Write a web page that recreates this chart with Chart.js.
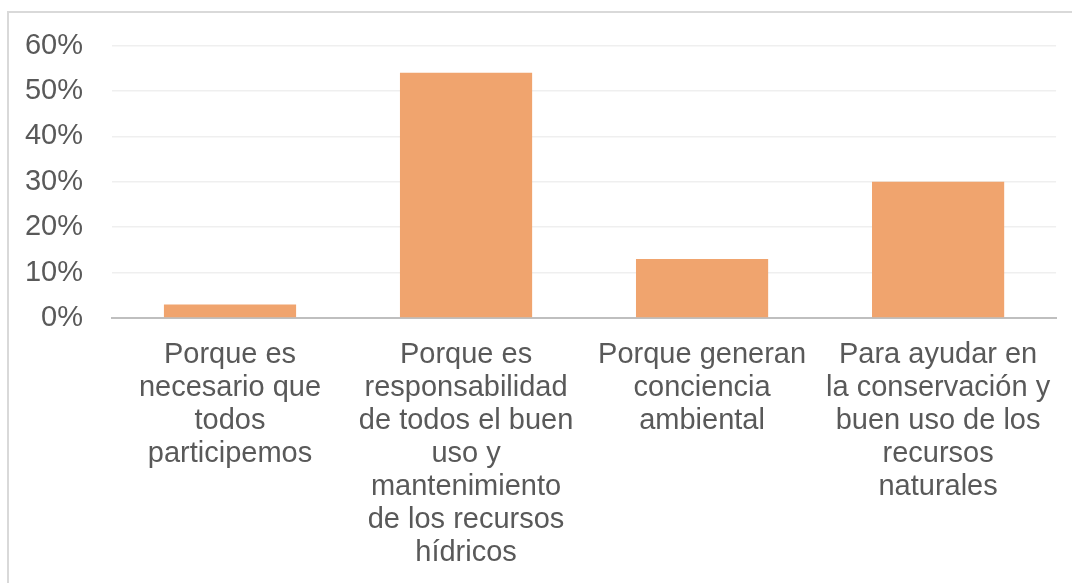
<!DOCTYPE html>
<html>
<head>
<meta charset="utf-8">
<script src="https://cdn.jsdelivr.net/npm/chart.js@4.4.0/dist/chart.umd.min.js"></script>
<style>
  body { margin: 0; background: #fff; }
  #wrap { position: relative; width: 1072px; height: 583px; }
  #frame { position: absolute; left: 7px; top: 11px; right: 0; bottom: 0;
           border-top: 2px solid #d9d9d9; border-left: 2px solid #d9d9d9; pointer-events: none; }
</style>
</head>
<body>
<div id="wrap">
  <canvas id="myChart" width="1072" height="583"></canvas>
  <div id="frame"></div>
</div>
<script>
// categories (already wrapped the way the picture shows them)
var categories = [
  ["Porque es", "necesario que", "todos", "participemos"],
  ["Porque es", "responsabilidad", "de todos el buen", "uso y", "mantenimiento", "de los recursos", "hídricos"],
  ["Porque generan", "conciencia", "ambiental"],
  ["Para ayudar en", "la conservación y", "buen uso de los", "recursos", "naturales"]
];
var values = [0.03, 0.54, 0.13, 0.30];
var yTicks = [0, 0.1, 0.2, 0.3, 0.4, 0.5, 0.6];

var textColor = "#595959";
var font = { family: "'Liberation Sans', Arial, sans-serif", size: 29, lineHeight: 1.14 };

new Chart("myChart", {
  type: "bar",
  data: {
    labels: categories,
    datasets: [{
      data: values,
      backgroundColor: "#F0A46E",
      categoryPercentage: 1,
      barPercentage: 0.56
    }]
  },
  options: {
    responsive: false,
    animation: false,
    layout: { padding: { top: 40, right: 15, left: 0, bottom: 0 } },
    plugins: { legend: { display: false }, tooltip: { enabled: false } },
    scales: {
      x: {
        grid: { display: false, drawTicks: false },
        border: { color: "#bfbfbf", width: 2 },
        ticks: { color: textColor, font: font, padding: 20, maxRotation: 0, autoSkip: false },
        afterFit: function (scale) { scale.height = 265; }
      },
      y: {
        min: 0,
        max: 0.6,
        afterBuildTicks: function (scale) {
          scale.ticks = yTicks.map(function (v) { return { value: v }; });
        },
        grid: { color: "#efefef", lineWidth: 1.5, drawTicks: false },
        border: { display: false },
        ticks: {
          color: textColor, font: font, padding: 29,
          callback: function (v) { return Math.round(v * 100) + "%"; }
        },
        afterFit: function (scale) { scale.width = 112; }
      }
    }
  }
});
</script>
</body>
</html>
